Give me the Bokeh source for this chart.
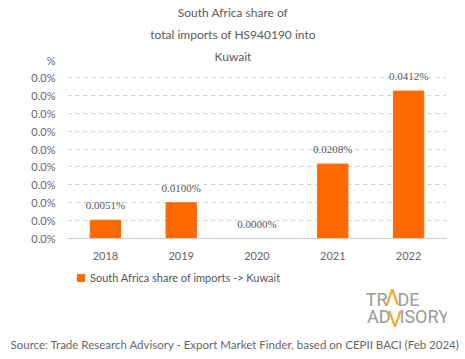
from bokeh.plotting import figure
from bokeh.models import (ColumnDataSource, FactorRange, Range1d, FixedTicker,
                          PrintfTickFormatter, LabelSet, Label, Legend, LegendItem, Title)
from bokeh.embed import file_html
from bokeh.resources import INLINE

# ---- data ----
years = ["2018", "2019", "2020", "2021", "2022"]
share_pct = [0.0051, 0.0100, 0.0000, 0.0208, 0.0412]
share_labels = ["0.0051%", "0.0100%", "0.0000%", "0.0208%", "0.0412%"]
y_ticks = [0.0, 0.005, 0.010, 0.015, 0.020, 0.025, 0.030, 0.035, 0.040, 0.045]
unit_tick = 0.0498          # where the "%" unit marker sits on the y axis
title_lines = ["South Africa share of", "total imports of HS940190 into", "Kuwait"]
series_name = "South Africa share of imports -> Kuwait"
source_text = "Source: Trade Research Advisory - Export Market Finder, based on CEPII BACI (Feb 2024)"

FONT = "Lato"
ORANGE = "#ff6a00"
W, H = 465, 359
FL, FR, FT, FB = 67, 19, 0, 24      # frame borders
FRAME_BOTTOM = H - FB               # 335
BASE = 238                          # page y of the zero line
PX_PER_UNIT = 3578.0
Y_START = -(FRAME_BOTTOM - BASE) / PX_PER_UNIT
Y_END = BASE / PX_PER_UNIT

src = ColumnDataSource(dict(year=years, val=share_pct, lab=share_labels))

p = figure(width=W, height=H, x_range=FactorRange(factors=years, range_padding=0),
           y_range=Range1d(Y_START, Y_END), output_backend="svg", toolbar_location=None,
           min_border_left=FL, min_border_right=FR, min_border_top=FT, min_border_bottom=FB)
p.outline_line_color = None
p.background_fill_color = "white"
p.border_fill_color = "white"

r = p.vbar(x="year", top="val", width=0.4, source=src, color=ORANGE)

# y axis
p.yaxis.ticker = FixedTicker(ticks=y_ticks + [unit_tick])
p.yaxis.formatter = PrintfTickFormatter(format="%.1f%%")
p.yaxis.major_label_overrides = {unit_tick: "%"}
p.yaxis.axis_line_color = None
p.yaxis.major_tick_line_color = None
p.yaxis.minor_tick_line_color = None
p.yaxis.major_tick_out = 0
p.yaxis.major_tick_in = 0
p.yaxis.major_label_standoff = 12
p.yaxis.major_label_text_font = FONT
p.yaxis.major_label_text_font_size = "11px"
p.yaxis.major_label_text_color = "#666666"

# x axis, drawn on the zero line
p.xaxis.fixed_location = 0
p.xaxis.axis_line_color = "#cccccc"
p.xaxis.major_tick_line_color = None
p.xaxis.minor_tick_line_color = None
p.xaxis.major_tick_out = 0
p.xaxis.major_tick_in = 0
p.xaxis.major_label_standoff = 13
p.xaxis.major_label_text_font = FONT
p.xaxis.major_label_text_font_size = "11px"
p.xaxis.major_label_text_color = "#666666"

p.xgrid.grid_line_color = None
p.ygrid.ticker = FixedTicker(ticks=y_ticks)
p.ygrid.grid_line_color = "#d0d0d0"
p.ygrid.grid_line_dash = "4 4"

# value labels
p.add_layout(LabelSet(x="year", y="val", text="lab", source=src, y_offset=15,
                      text_align="center", text_baseline="middle", text_font=FONT,
                      text_font_size="11px", text_color="#555555"))


def lab(text, px, py, size="12px", color="#555555", align="center", font=FONT):
    p.add_layout(Label(x=px - FL, y=FRAME_BOTTOM - py, x_units="screen", y_units="screen",
                       text=text, text_align=align, text_baseline="middle",
                       text_font=font, text_font_size=size, text_color=color))


# title lines
for txt, py in zip(title_lines, [12, 34, 56]):
    lab(txt, 232.5, py, color="#5a5a5a")

# logo
GREY = "#9a9a9a"
ACC = "#f5a623"
lab("TR", 387, 299, size="18px", color=GREY, align="right", font="Roboto")
lab("\u039b", 392, 297, size="22px", color=ACC, align="center", font="Roboto")
lab("DE", 397, 299, size="18px", color=GREY, align="left", font="Roboto")
lab("AD", 390, 316, size="18px", color=GREY, align="right", font="Roboto")
lab("V", 394.5, 319, size="22px", color=ACC, align="center", font="Roboto")
lab("ISORY", 399, 316, size="18px", color=GREY, align="left", font="Roboto")

# legend
legend = Legend(items=[LegendItem(label=series_name, renderers=[r])],
                location=(76 - FL, FRAME_BOTTOM - 284), padding=0, margin=0, spacing=0,
                glyph_width=9, glyph_height=9, label_height=12, label_standoff=5,
                label_text_font=FONT, label_text_font_size="11px", label_text_color="#555555",
                background_fill_alpha=0, border_line_color=None)
p.add_layout(legend, "center")

# source line
p.add_layout(Title(text=source_text, align="left", offset=10 - FL, standoff=0,
                   text_font=FONT, text_font_size="11.5px", text_color="#666666",
                   text_font_style="normal"), "below")

open("out.html", "w").write(file_html(p, INLINE))
